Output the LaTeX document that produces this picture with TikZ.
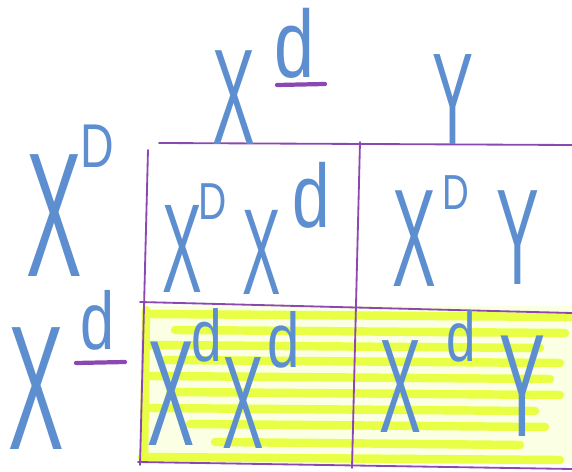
\documentclass[tikz,border=0pt]{standalone}
\usepackage{fontspec}
\setmainfont{Liberation Sans}
\usetikzlibrary{positioning}
\definecolor{penblue}{RGB}{92,142,208}
\definecolor{markerpurple}{RGB}{140,72,178}
\definecolor{highlight}{RGB}{232,255,70}

\begin{document}
\begin{tikzpicture}[x=0.25mm, y=-0.25mm,
    glyph/.style={text=penblue, font=\fontsize{#1}{#1}\selectfont, inner sep=0pt,
                  anchor=base west, transform shape, xscale=0.47},
    raised/.style={glyph=#1, xscale=1.6},
    gridline/.style={draw=markerpurple, line width=1.3pt, line cap=round},
    underscore/.style={draw=markerpurple, line width=3pt, line cap=round},
    stripe/.style={draw=highlight, line width=6pt, line cap=round}]
    \fill[white] (0,0) rectangle (572,472);
    \useasboundingbox (0,0) rectangle (572,472);

    % highlighted lower row
    \fill[highlight!15] (142,306) rectangle (572,464);
    \foreach \ya/\xa/\xb in {314/150/572, 330/175/565, 345/150/540, 360/165/560,
                             376/150/550, 392/170/560, 408/150/535, 424/190/545,
                             442/215/520, 457/142/560}
        \draw[stripe] (\xa,\ya) -- (\xb,\ya+3);
    \draw[stripe] (146,310) -- (144,458);

    % Punnett grid
    \draw[gridline] (159,143) -- (572,145);
    \draw[gridline] (148,150) -- (140,465);
    \draw[gridline] (360,142) -- (352,468);
    \draw[gridline] (140,302) -- (572,313);
    \draw[gridline] (138,462) -- (572,469);

    % gametes along the top
    \node[glyph=97] (topX) at (212,145) {X};
    \node[raised=68] (topd) at (274,78) {d};
    \node[glyph=93] (topY) at (432,145) {Y};
    \draw[underscore] (277,85) -- (325,84);

    % gametes down the side
    \node[glyph=126] (sideX1) at (26,277) {X};
    \node[raised=44] (sideD) at (80,168) {D};
    \node[glyph=126] (sideX2) at (8,450) {X};
    \node[raised=58] (sided) at (80,350) {d};
    \draw[underscore] (76,363) -- (125,362);

    % offspring, upper row
    \node[glyph=90] (aX1) at (162,293) {X};
    \node[raised=37] (aD) at (198,220) {D};
    \node[glyph=87] (aX2) at (242,295) {X};
    \node[raised=64] (ad) at (292,228) {d};
    \node[glyph=99] (bX) at (392,287) {X};
    \node[raised=35] (bD) at (442,210) {D};
    \node[glyph=97] (bY) at (496,285) {Y};

    % offspring, lower row
    \node[glyph=107] (cX1) at (147,445) {X};
    \node[raised=52] (cd1) at (191,362) {d};
    \node[glyph=94] (cX2) at (222,448) {X};
    \node[raised=55] (cd2) at (267,367) {d};
    \node[glyph=95] (dX) at (379,433) {X};
    \node[raised=50] (dd) at (446,362) {d};
    \node[glyph=104] (dY) at (499,437) {Y};
\end{tikzpicture}
\end{document}
